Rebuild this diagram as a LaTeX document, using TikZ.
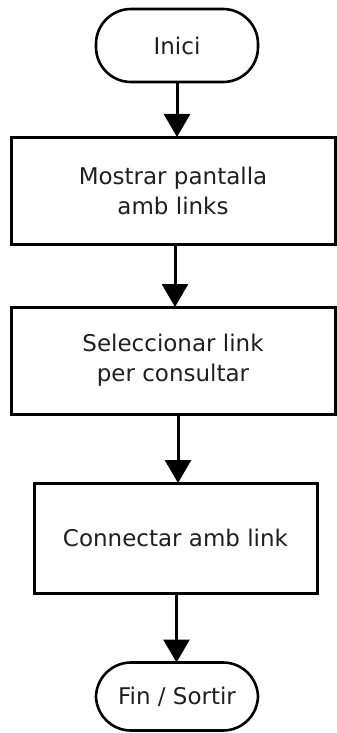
\documentclass[tikz,border=0pt]{standalone}
\usepackage{fontspec}
\setmainfont{DejaVu Sans}
\usetikzlibrary{arrows.meta}
\begin{document}
\begin{tikzpicture}[x=1pt,y=-1pt,
  every node/.style={font=\fontsize{23}{30}\selectfont, text=black!88, align=center, inner sep=0pt, outer sep=0pt},
  terminal/.style={draw=black, line width=2.6pt, rounded corners=35pt, minimum width=162pt},
  procbox/.style={draw=black, line width=3pt},
  flow/.style={line width=3pt, -{Triangle[width=26pt,length=23pt]}}]
\useasboundingbox (0,0) rectangle (337,733);
\node[terminal, minimum height=73pt] (start) at (177,45.5) {Inici};
\node[procbox, minimum width=324pt, minimum height=107pt] (show) at (173,190.5) {Mostrar pantalla\\amb links};
\node[procbox, minimum width=324pt, minimum height=107pt] (select) at (173,360.5) {Seleccionar link\\per consultar};
\node[procbox, minimum width=283pt, minimum height=110pt] (connect) at (175.5,538) {Connectar amb link};
\node[terminal, minimum height=68pt] (end) at (177,696.5) {Fin / Sortir};
\draw[flow] (start.south) -- (start.south |- show.north);
\draw[flow] ([xshift=2pt]show.south) -- ([xshift=2pt]show.south |- select.north);
\draw[flow] ([xshift=5pt]select.south) -- ([xshift=5pt]select.south |- connect.north);
\draw[flow] ([xshift=1pt]connect.south) -- ([xshift=1pt]connect.south |- end.north);
\end{tikzpicture}
\end{document}
